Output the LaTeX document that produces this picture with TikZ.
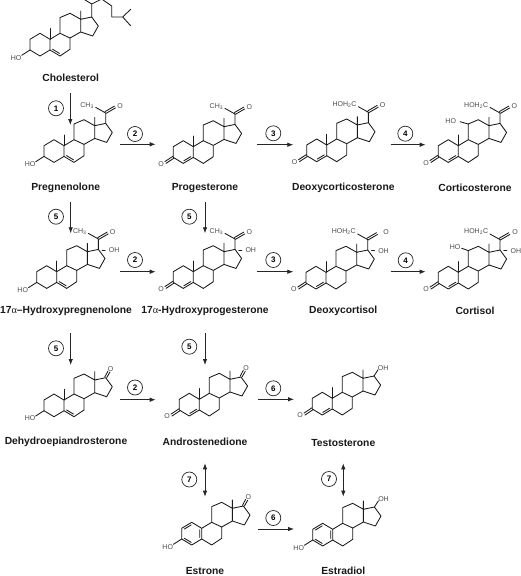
\documentclass[tikz,border=0pt]{standalone}
\usepackage{fontspec}
\setmainfont{Liberation Sans}
\newfontfamily\grk{Liberation Serif}
\usetikzlibrary{arrows.meta}
\tikzset{
  x=1pt,y=-1pt,
  bond/.style={draw=black!90,line width=0.85pt,line join=round,line cap=round},
  atom/.style={inner sep=0pt,font=\fontsize{7}{8}\selectfont,text=black!70},
  molname/.style={inner sep=0pt,font=\fontsize{10.3}{12}\selectfont\bfseries,text=black!90},
  stepnum/.style={circle,draw=black!85,line width=0.7pt,minimum size=15pt,inner sep=0pt,font=\fontsize{8}{9}\selectfont\bfseries},
  rxn/.style={draw=black!85,line width=0.8pt,-{Latex[length=6pt,width=4.5pt]}},
  rxnb/.style={draw=black!85,line width=0.8pt,{Latex[length=6pt,width=4.5pt]}-{Latex[length=6pt,width=4.5pt]}}
}
\newcommand\skel{\draw[bond] (0,0)--(-10,-6)--(-20,0)--(-20,10.7)--(-10,16.7)--(0,10.7)--cycle
  (0,0)--(10,-6)--(20,-1.3)--(20,10)--(10,16.7)--(0,10.7)
  (10,-6)--(10,-21.7)--(20,-26)--(30.7,-20)--(30.7,-7.3)--(20,-1.3)
  (30.7,-20)--(41.7,-22.3)--(48.3,-13.3)--(42.7,-3.3)--(30.7,-7.3)
  (30.7,-20)--(30.7,-28.3);}
\newcommand\meth{\draw[bond] (0,0)--(0,-10.7);}
\newcommand\dblB{\draw[bond] (2.5,9.9)--(9.5,14.1);}
\newcommand\dblA{\draw[bond] (-9.5,14.1)--(-2.5,9.9);}
\newcommand\arom{\draw[bond] (-17.5,0.8)--(-10.5,-3.4) (-17.5,9.9)--(-10.5,14.1) (-2,1.5)--(-2,9.2);}
\newcommand\hoA{\draw[bond] (-20,10.7)--(-28.3,16); \node[atom] (ho) at (-34,18.4) {HO};}
\newcommand\ketoA{\draw[bond] (-20.3,9.5)--(-28.3,14.8) (-19.3,11.4)--(-27.3,16.7); \node[atom] (oa) at (-32.2,17) {O};}
\newcommand\acetyl[2]{\draw[bond] (41.7,-22.3)--(41.7,-32.7)--(31.7,-38.3)
  (41.2,-34.2)--(50.5,-39.6) (42.2,-32.4)--(51.5,-37.8);
  \node[atom] (oc) at (#1,-40) {O}; \node[atom,anchor=east] (ra) at (30,-40.4) {#2};}
\newcommand\ohseventeen{\draw[bond] (45.5,-21.7)--(48.5,-21.7); \node[atom] (oh) at (57.5,-21.5) {OH};}
\newcommand\ohb[2]{\draw[bond] (10,-21.7)--(#2,-24); \node[atom] (hoc) at (#1,-25) {HO};}
\newcommand\ketoD{\draw[bond] (40.8,-23)--(44,-29) (42.8,-22.5)--(46,-28); \node[atom] (od) at (46.7,-31.2) {O};}
\newcommand\ohD{\draw[bond] (41.7,-22.3)--(45.7,-28.5); \node[atom] (od) at (50.8,-30) {OH};}
\newcommand\rxnstep[9][rxn]{\coordinate (#2a) at (#3,#4); \coordinate (#2b) at (#5,#6);
  \draw[#1] (#2a)--(#2b); \node[stepnum] (#2n) at (#7,#8) {#9};}
\begin{document}
\begin{tikzpicture}
\useasboundingbox (0,0) rectangle (520,576);
\fill[white] (0,0) rectangle (520,576);
\clip (0,0) rectangle (520,576);
% Cholesterol
\begin{scope}[shift={(50,39.3)},name prefix=chol-]
\skel\meth\dblB\hoA
\draw[bond] (41.7,-22.3)--(41.7,-35.3)--(33.5,-40.3) (41.7,-35.3)--(51.7,-40.3)--(61.7,-33.3)--(61.7,-22.3)--(72.7,-22.3)--(80.7,-30) (72.7,-22.3)--(80.7,-13.5);
\end{scope}
\node[molname] (cholesterol) at (70.7,78.3) {Cholesterol};
% Row 1
\begin{scope}[shift={(64,145.7)},name prefix=preg-]\skel\meth\dblB\hoA\acetyl{56}{CH\textsubscript{3}}\end{scope}
\node[molname] (pregnenolone) at (65.7,188) {Pregnenolone};
\begin{scope}[shift={(193.3,146.7)},name prefix=prog-]\skel\meth\dblA\ketoA\acetyl{56}{CH\textsubscript{3}}\end{scope}
\node[molname] (progesterone) at (205,187.7) {Progesterone};
\begin{scope}[shift={(326.7,145)},name prefix=doc-]\skel\meth\dblA\ketoA\acetyl{56}{HOH\textsubscript{2}C}\end{scope}
\node[molname] (doc) at (343.3,188.3) {Deoxycorticosterone};
\begin{scope}[shift={(458.3,145.7)},name prefix=cort-]\skel\meth\dblA\ketoA\ohb{-7.6}{1.7}\acetyl{56}{HOH\textsubscript{2}C}\end{scope}
\node[molname] (corticosterone) at (475,187.7) {Corticosterone};
% Row 2
\begin{scope}[shift={(56.7,271.7)},name prefix=ohpreg-]\skel\meth\dblB\hoA\acetyl{56}{CH\textsubscript{3}}\ohseventeen\end{scope}
\node[molname] (ohpreg) at (66,310.7) {17{\grk\mdseries α}–Hydroxypregnenolone};
\begin{scope}[shift={(193.3,271.7)},name prefix=ohprog-]\skel\meth\dblA\ketoA\acetyl{56}{CH\textsubscript{3}}\ohseventeen\end{scope}
\node[molname] (ohprog) at (205,310.7) {17{\grk\mdseries α}-Hydroxyprogesterone};
\begin{scope}[shift={(326,272.3)},name prefix=dox-]\skel\meth\dblA\ketoA\acetyl{60}{HOH\textsubscript{2}C}\ohseventeen\end{scope}
\node[molname] (doxol) at (343.3,310.7) {Deoxycortisol};
\begin{scope}[shift={(458.3,272.3)},name prefix=cl-]\skel\meth\dblA\ketoA\ohb{-3.3}{3.4}\acetyl{56.7}{HOH\textsubscript{2}C}\ohseventeen\end{scope}
\node[molname] (cortisol) at (475,310.7) {Cortisol};
% Row 3
\begin{scope}[shift={(64,400)},name prefix=dhea-]\skel\meth\dblB\hoA\ketoD\end{scope}
\node[molname] (dhea) at (66,441.5) {Dehydroepiandrosterone};
\begin{scope}[shift={(199.3,399.3)},name prefix=andro-]\skel\meth\dblA\ketoA\ketoD\end{scope}
\node[molname] (andro) at (205,441.5) {Androstenedione};
\begin{scope}[shift={(332.3,398.3)},name prefix=testo-]\skel\meth\dblA\ketoA\ohD\end{scope}
\node[molname] (testo) at (343.3,442.7) {Testosterone};
% Row 4
\begin{scope}[shift={(201.7,528.3)},name prefix=estrone-]\skel\arom\hoA\ketoD\end{scope}
\node[molname] (estrone) at (205,570.8) {Estrone};
\begin{scope}[shift={(332.7,529.3)},name prefix=estradiol-]\skel\arom\hoA\ohD\end{scope}
\node[molname] (estradiol) at (343.3,570.8) {Estradiol};
% Arrows
\rxnstep{s1}{70.3}{93}{70.3}{125}{56}{108.3}{1}
\rxnstep{s2a}{120}{144.3}{155.7}{144.3}{135}{134}{2}
\rxnstep{s3a}{257}{144.7}{293.3}{144.7}{273.3}{133.3}{3}
\rxnstep{s4a}{390.7}{144.7}{425.7}{144.7}{405.3}{133.7}{4}
\rxnstep{s5a}{70.7}{202.3}{70.7}{233.3}{56}{216.7}{5}
\rxnstep{s5b}{205}{202.3}{205}{233.3}{189.3}{216.7}{5}
\rxnstep{s2b}{120}{271.7}{155.7}{271.7}{135}{260}{2}
\rxnstep{s3b}{257}{271.7}{293.3}{271.7}{273.3}{260}{3}
\rxnstep{s4b}{390.7}{271.7}{425.7}{271.7}{405.7}{260.3}{4}
\rxnstep{s5c}{70.7}{333.3}{70.7}{365}{56}{348.3}{5}
\rxnstep{s5d}{205}{333.3}{205}{365}{189.3}{346.7}{5}
\rxnstep{s2c}{120}{399.7}{155.7}{399.7}{135}{387.5}{2}
\rxnstep{s6a}{258.3}{399.3}{294}{399.3}{273.3}{388.3}{6}
\rxnstep[rxnb]{s7a}{205}{463.3}{205}{496.7}{189.3}{479.5}{7}
\rxnstep[rxnb]{s7b}{343.3}{463.3}{343.3}{496.7}{329}{479}{7}
\rxnstep{s6b}{258.3}{529}{294}{529}{273.3}{518}{6}
\end{tikzpicture}
\end{document}
